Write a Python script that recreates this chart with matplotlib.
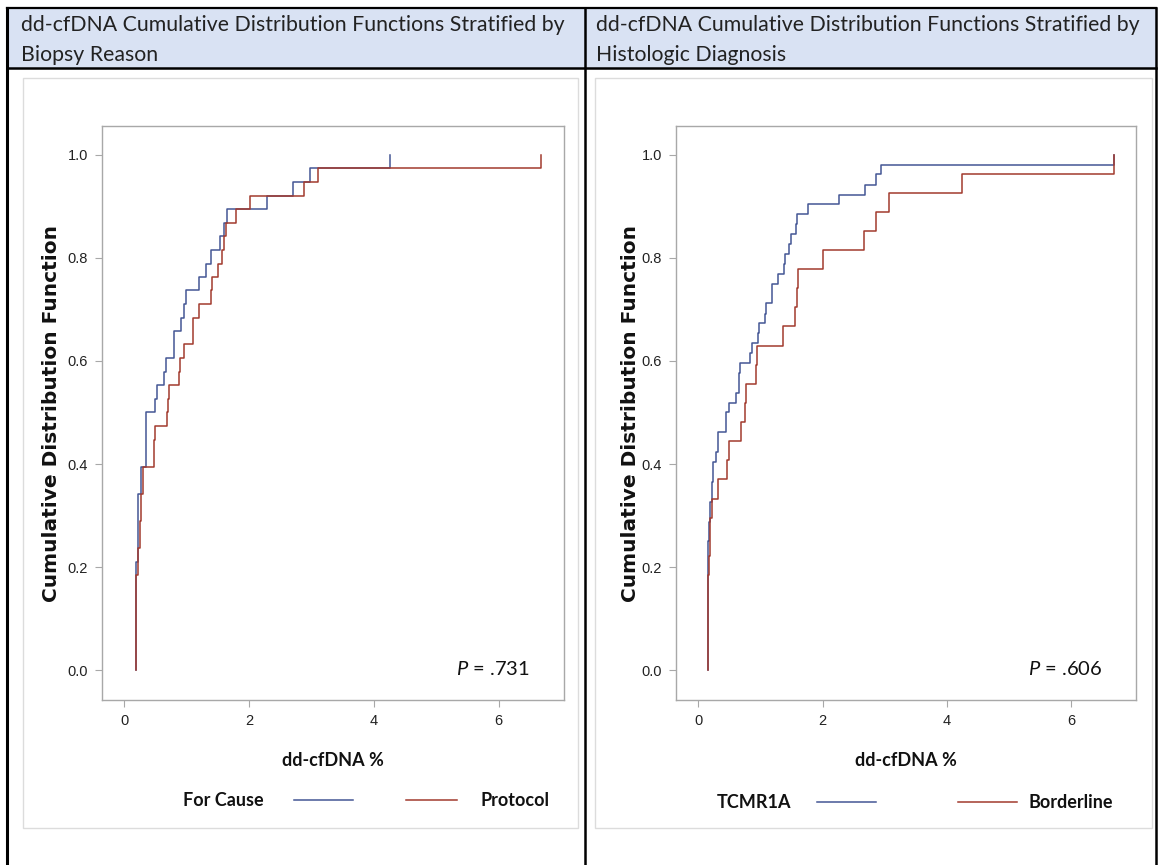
import matplotlib
matplotlib.use("Agg")
import matplotlib.pyplot as plt
from matplotlib.patches import Rectangle
from matplotlib.lines import Line2D

W, H = 1158, 865

# left panel: stratified by biopsy reason (step points of the empirical CDF)
cause_x = [0.19, 0.19, 0.22, 0.27, 0.35, 0.49, 0.52, 0.63, 0.67, 0.79, 0.90, 0.95, 0.98,
           1.19, 1.31, 1.39, 1.53, 1.60, 1.65, 2.29, 2.70, 2.97, 4.26]
cause_y = [0.0, 0.210, 0.342, 0.395, 0.500, 0.526, 0.553, 0.579, 0.605, 0.658, 0.684, 0.711, 0.737,
           0.763, 0.789, 0.816, 0.842, 0.868, 0.895, 0.921, 0.947, 0.974, 1.0]
protocol_x = [0.19, 0.19, 0.22, 0.25, 0.27, 0.30, 0.47, 0.49, 0.68, 0.70, 0.71, 0.87, 0.89, 0.95,
              1.10, 1.20, 1.39, 1.41, 1.50, 1.57, 1.59, 1.63, 1.79, 2.02, 2.88, 3.10, 6.68]
protocol_y = [0.0, 0.184, 0.237, 0.289, 0.342, 0.395, 0.447, 0.474, 0.500, 0.526, 0.553, 0.579, 0.605, 0.632,
              0.684, 0.711, 0.737, 0.763, 0.789, 0.816, 0.842, 0.868, 0.895, 0.921, 0.947, 0.974, 1.0]

# right panel: stratified by histologic diagnosis
tcmr_x = [0.15, 0.15, 0.17, 0.19, 0.22, 0.24, 0.28, 0.31, 0.44, 0.49, 0.61, 0.65, 0.66, 0.67,
          0.825, 0.87, 0.96, 0.97, 1.08, 1.09, 1.18, 1.19, 1.28, 1.38, 1.39, 1.46, 1.50, 1.58, 1.59,
          1.77, 2.27, 2.69, 2.86, 2.94, 6.70]
tcmr_y = [0.0, 0.250, 0.288, 0.327, 0.365, 0.404, 0.423, 0.462, 0.500, 0.519, 0.538, 0.558, 0.577, 0.596,
          0.615, 0.635, 0.654, 0.673, 0.692, 0.712, 0.731, 0.750, 0.769, 0.788, 0.808, 0.827, 0.846, 0.865, 0.885,
          0.904, 0.923, 0.942, 0.962, 0.981, 1.0]
border_x = [0.15, 0.15, 0.16, 0.17, 0.18, 0.19, 0.22, 0.31, 0.46, 0.49, 0.68, 0.755, 0.77, 0.93, 0.94,
            1.36, 1.55, 1.59, 1.61, 2.00, 2.67, 2.86, 3.07, 4.25, 6.70]
border_y = [0.0, 0.148, 0.185, 0.222, 0.259, 0.296, 0.333, 0.370, 0.407, 0.444, 0.481, 0.519, 0.556, 0.593, 0.630,
            0.667, 0.704, 0.741, 0.778, 0.815, 0.852, 0.889, 0.926, 0.963, 1.0]

titles = ["dd-cfDNA Cumulative Distribution Functions Stratified by\nBiopsy Reason",
          "dd-cfDNA Cumulative Distribution Functions Stratified by\nHistologic Diagnosis"]
p_values = [".731", ".606"]
legend_names = [("For Cause", "Protocol"), ("TCMR1A", "Borderline")]
x_ticks = [0, 2, 4, 6]
y_ticks = [0.0, 0.2, 0.4, 0.6, 0.8, 1.0]

BLUE = "#445694"
RED = "#A23A2E"

plt.rcParams["mathtext.fontset"] = "custom"
plt.rcParams["mathtext.it"] = "Lato:italic"
plt.rcParams["mathtext.rm"] = "Lato"


def fig_box(x0, y0, x1, y1):
    """pixel box (top-left origin) -> figure fraction"""
    return [x0 / W, 1 - y1 / H, (x1 - x0) / W, (y1 - y0) / H]


fig = plt.figure(figsize=(W / 100, H / 100), dpi=100)
fig.patch.set_facecolor("white")

# background layer in pixel coords: table cells, borders, legends
bg = fig.add_axes([0, 0, 1, 1])
bg.set_xlim(0, W)
bg.set_ylim(H, 0)
bg.axis("off")

bg.add_patch(Rectangle((7, 8), 1149, 60, facecolor="#D9E2F3", edgecolor="none"))
for xs, ys, lw in [((7, 1156), (8, 8), 1.6), ((7, 1156), (68, 68), 1.8),
                   ((7, 7), (8, H), 2.2), ((585, 585), (8, H), 1.8), ((1156, 1156), (8, H), 1.8)]:
    bg.add_line(Line2D(xs, ys, color="black", lw=lw))

panels = [
    dict(col=7, text_x=21, box=(23, 78, 578, 828), ax=(102, 126, 564, 700),
         leg=(183, (294, 353), (406, 457), 480, 800)),
    dict(col=585, text_x=596, box=(595, 78, 1152, 828), ax=(676, 126, 1136, 700),
         leg=(717, (817, 876), (958, 1017), 1028, 802)),
]
series = [((cause_x, cause_y), (protocol_x, protocol_y)),
          ((tcmr_x, tcmr_y), (border_x, border_y))]

for i, p in enumerate(panels):
    line1, line2 = titles[i].split("\n")
    bg.text(p["text_x"], 31, line1, fontsize=15.3, family="Lato", color="#222222", va="baseline")
    bg.text(p["text_x"], 61, line2, fontsize=15.3, family="Lato", color="#222222", va="baseline")

    bx0, by0, bx1, by1 = p["box"]
    bg.add_patch(Rectangle((bx0, by0), bx1 - bx0, by1 - by0, facecolor="white",
                           edgecolor="#dcdcdc", lw=1))

    # legend (SAS style: name, line, line, name)
    t1x, (l1a, l1b), (l2a, l2b), t2x, ly = p["leg"]
    n1, n2 = legend_names[i]
    bg.text(t1x, ly, n1, fontsize=13, family="Lato", weight="bold", va="center", color="#111111")
    bg.add_line(Line2D([l1a, l1b], [ly, ly], color=BLUE, lw=1.1))
    bg.add_line(Line2D([l2a, l2b], [ly, ly], color=RED, lw=1.1))
    bg.text(t2x, ly, n2, fontsize=13, family="Lato", weight="bold", va="center", color="#111111")

    ax = fig.add_axes(fig_box(*p["ax"]))
    (bx, by), (rx, ry) = series[i]
    ax.step(bx, by, where="post", color=BLUE, lw=1.1, zorder=3)
    ax.step(rx, ry, where="post", color=RED, lw=1.1, zorder=4)

    ax.set_xlim(-0.36, 7.05)
    ax.set_ylim(-0.058, 1.056)
    ax.set_xticks(x_ticks)
    ax.set_yticks(y_ticks)
    ax.set_yticklabels([f"{v:.1f}" for v in y_ticks])
    for s in ax.spines.values():
        s.set_color("#a8a8a8")
        s.set_linewidth(1.0)
    ax.tick_params(direction="out", length=5, width=0.8, color="#a8a8a8",
                   labelcolor="#222222", labelsize=10.5, pad=5)
    for lab in ax.get_xticklabels() + ax.get_yticklabels():
        lab.set_family("Liberation Sans")

    ax.set_xlabel("dd-cfDNA %", fontsize=13, family="Lato", weight="bold", color="#111111")
    ax.xaxis.label.set_va("center")
    ax.xaxis.set_label_coords(0.5, -(761 - 700) / 574)
    ax.set_ylabel("Cumulative Distribution Function", fontsize=14.5, family="DejaVu Sans",
                  weight="bold", color="#111111")
    ax.yaxis.label.set_va("center")
    ax.yaxis.set_label_coords(-(p["ax"][0] - (p["col"] + 45)) / (p["ax"][2] - p["ax"][0]), 0.5)

    ax.text(1 - 34 / 462, 0.044, r"$\mathit{P}$ = " + p_values[i], transform=ax.transAxes,
            fontsize=14.5, family="Lato", ha="right", va="baseline", color="#111111")

fig.savefig("out.png", dpi=100)
